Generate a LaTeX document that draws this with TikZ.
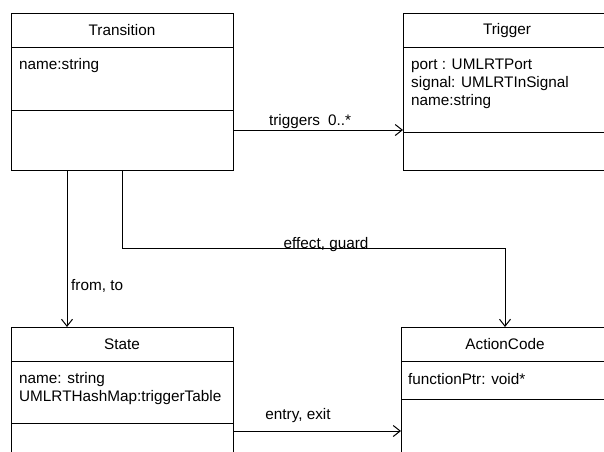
\documentclass[tikz,border=0pt]{standalone}
\usepackage{fontspec}
\setmainfont{Liberation Sans}
\usetikzlibrary{arrows.meta,calc}
\begin{document}
\begin{tikzpicture}[x=1pt,y=-1pt,
  cls/.style={draw, line width=1pt, rectangle, anchor=north west, inner sep=0pt, outer sep=0pt},
  ln/.style={line width=1pt},
  arr/.style={line width=1pt, -{Straight Barb[length=7pt,width=11pt,line width=1pt]}},
  txt/.style={inner sep=0pt, font=\fontsize{15.3}{18}\selectfont},
  attr/.style={txt, anchor=north west, align=left},
  title/.style={txt, anchor=center},
  lbl/.style={txt, anchor=base}]
\useasboundingbox (0,0) rectangle (604,451);
\clip (0,0) rectangle (604,451);
\fill[white] (0,0) rectangle (604,451);
% boxes
\node[cls, minimum width=222pt, minimum height=157pt] (trans) at (11,13) {};
\node[cls, minimum width=210pt, minimum height=157pt] (trig) at (403,13) {};
\node[cls, minimum width=222pt, minimum height=150pt] (state) at (11,327) {};
\node[cls, minimum width=208pt, minimum height=150pt] (action) at (401,327) {};
% dividers
\draw[ln] (trans.west |- 0,47) -- (trans.east |- 0,47);
\draw[ln] (trans.west |- 0,110) -- (trans.east |- 0,110);
\draw[ln] (trig.west |- 0,47) -- (trig.east |- 0,47);
\draw[ln] (trig.west |- 0,132) -- (trig.east |- 0,132);
\draw[ln] (state.west |- 0,361) -- (state.east |- 0,361);
\draw[ln] (state.west |- 0,423) -- (state.east |- 0,423);
\draw[ln] (action.west |- 0,361) -- (action.east |- 0,361);
\draw[ln] (action.west |- 0,399) -- (action.east |- 0,399);
% texts
\node[title] (transT) at (122,30.5) {Transition};
\node[attr] (transA) at (19,58.5) {name:string};
\node[title] (trigT) at (507,30.5) {Trigger};
\node[attr] (trigA) at (411,58.5) {port : UMLRTPort\\signal: UMLRTInSignal\\name:string};
\node[title] (stateT) at (122,344.5) {State};
\node[attr] (stateA) at (19,372.5) {name: string\\UMLRTHashMap:triggerTable};
\node[title] (actionT) at (505,344.5) {ActionCode};
\node[attr] (actionA) at (408,373.5) {functionPtr: void*};
% connectors
\draw[arr] (trans.east |- 0,130) -- (trig.west |- 0,130);
\node[lbl] (lt) at (310,125) {triggers\hspace{8pt}0..*};
\draw[arr] (trans.south -| 67,0) -- (state.north -| 67,0);
\node[lbl, anchor=base west] (lf) at (71,290) {from, to};
\draw[arr] (trans.south) -- ++(0,78) -| (action.north);
\node[lbl] (le) at (326,248) {effect, guard};
\draw[arr] (state.east |- 0,431) -- (action.west |- 0,431);
\node[lbl] (lx) at (298,419) {entry, exit};
\end{tikzpicture}
\end{document}
